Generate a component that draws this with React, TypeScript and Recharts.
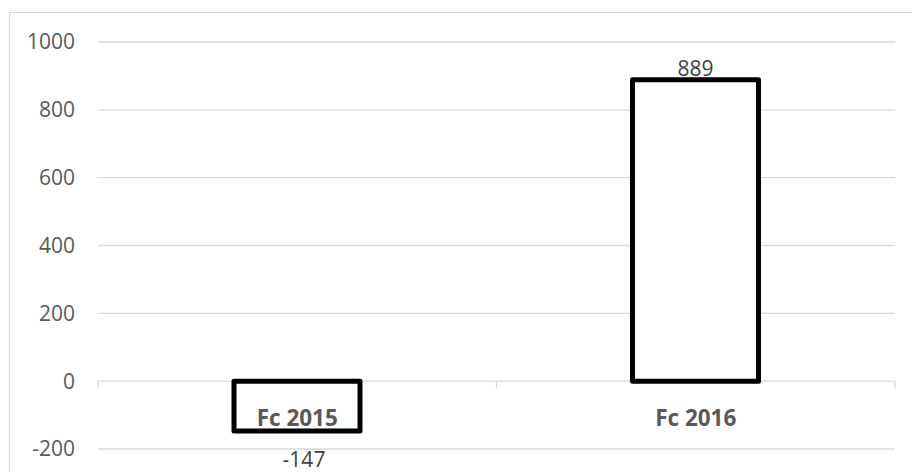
import React from "react";
import { BarChart, Bar, XAxis, YAxis, CartesianGrid, LabelList } from "recharts";

const categories = ["Fc 2015", "Fc 2016"];
const values = [-147, 889];
const yTicks = [-200, 0, 200, 400, 600, 800, 1000];

const Y_MIN = -200;
const Y_MAX = 1000;
const PLOT_TOP = 42;
const PLOT_BOTTOM = 449;
const FONT = "'Open Sans', 'Liberation Sans', sans-serif";

const data = categories.map((c, i) => ({ name: c, value: values[i] }));

const CategoryTick = (props: any) => {
  const { x, y, payload, width, visibleTicksCount, index } = props;
  const plotH = PLOT_BOTTOM - PLOT_TOP;
  const zeroY = y - (plotH * (0 - Y_MIN)) / (Y_MAX - Y_MIN);
  const count = visibleTicksCount || categories.length;
  const band = (typeof width === "number" && width > 0 ? width : 797) / count;
  const marks: number[] = [];
  if (index === 0) marks.push(x - band / 2);
  marks.push(x + band / 2);
  return (
    <g>
      {marks.map((mx, i) => (
        <line key={i} x1={mx} x2={mx} y1={zeroY} y2={zeroY + 7} stroke="#d9d9d9" strokeWidth={1.3} />
      ))}
      <text
        x={x}
        y={zeroY + 36}
        textAnchor="middle"
        dominantBaseline="central"
        fill="#595959"
        fontSize={22.5}
        fontWeight="bold"
        fontFamily={FONT}
      >
        {payload.value}
      </text>
    </g>
  );
};

const ValueLabel = (props: any) => {
  const { x, y, width, height, value } = props;
  const top = Math.min(y, y + height);
  const bottom = Math.max(y, y + height);
  const cx = x + width / 2 + (value < 0 ? 7 : 0);
  const ty = value >= 0 ? top - 12 : bottom + 28;
  return (
    <text
      x={cx}
      y={ty}
      textAnchor="middle"
      dominantBaseline="central"
      fill="#404040"
      fontSize={21}
      fontFamily={FONT}
    >
      {value}
    </text>
  );
};

export default function App() {
  return (
    <div
      style={{
        position: "absolute",
        left: 0,
        top: 0,
        width: 912,
        height: 472,
        overflow: "hidden",
        background: "#fff",
      }}
    >
      <div
        style={{
          position: "absolute",
          left: 9,
          top: 12,
          width: 1000,
          height: 1000,
          border: "1px solid #d9d9d9",
        }}
      />
      <div style={{ position: "absolute", left: 0, top: 0 }}>
        <BarChart
          width={912}
          height={472}
          data={data}
          margin={{ top: PLOT_TOP, right: 17, left: 0, bottom: 22 }}
        >
          <CartesianGrid vertical={false} stroke="#d9d9d9" strokeWidth={1.3} />
          <XAxis
            dataKey="name"
            height={1}
            axisLine={false}
            tickLine={false}
            tickSize={0}
            tickMargin={0}
            interval={0}
            tick={<CategoryTick />}
          />
          <YAxis
            domain={[Y_MIN, Y_MAX]}
            ticks={yTicks}
            allowDataOverflow
            axisLine={false}
            tickLine={false}
            tickSize={0}
            tickMargin={23}
            width={98}
            tick={{ fill: "#595959", fontSize: 21, fontFamily: FONT }}
          />
          <Bar
            dataKey="value"
            fill="#ffffff"
            stroke="#000000"
            strokeWidth={5}
            strokeLinejoin="round"
            barSize={126}
            isAnimationActive={false}
          >
            <LabelList dataKey="value" content={<ValueLabel />} />
          </Bar>
        </BarChart>
      </div>
    </div>
  );
}
